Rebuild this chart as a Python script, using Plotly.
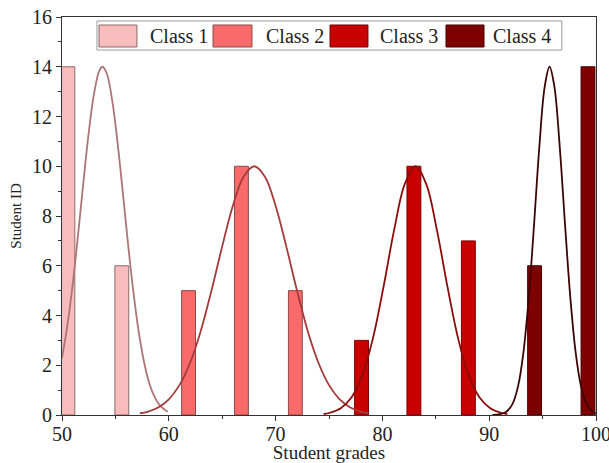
import plotly.graph_objects as go

# ---- data ----
class_names = ["Class 1", "Class 2", "Class 3", "Class 4"]

class1_x = [50.55, 55.6]
class1_y = [14, 6]
class2_x = [61.85, 66.8, 71.85]
class2_y = [5, 10, 5]
class3_x = [78.05, 82.95, 88.05]
class3_y = [3, 10, 7]
class4_x = [94.25, 99.25]
class4_y = [6, 14]

# fitted distribution curves
curve1_x = [50, 50.5, 51, 51.5, 52, 52.5, 53, 53.5, 53.8, 54.2, 54.7, 55.2, 55.7, 56.2, 56.7, 57.2, 57.7, 58.2, 58.7, 59.2, 59.9]
curve1_y = [2.30, 3.59, 5.25, 7.23, 9.34, 11.34, 12.92, 13.84, 14.0, 13.72, 12.65, 10.96, 8.92, 6.81, 4.89, 3.30, 2.09, 1.24, 0.70, 0.37, 0.13]

curve2_x = [57.3, 58, 59, 60, 61, 62, 63, 64, 65, 66, 67, 68, 69, 70, 71, 72, 73, 74, 75, 76, 77, 78, 78.7]
curve2_y = [0.07, 0.13, 0.30, 0.63, 1.20, 2.11, 3.39, 5.01, 6.78, 8.41, 9.58, 10.0, 9.58, 8.41, 6.78, 5.01, 3.39, 2.11, 1.20, 0.63, 0.30, 0.13, 0.07]

curve3_x = [74.5, 75.1, 76.1, 77.1, 78.1, 79.1, 80.1, 81.1, 82.1, 83.1, 84.1, 85.1, 86.1, 87.1, 88.1, 89.1, 90.1, 91.1, 91.7]
curve3_y = [0.04, 0.09, 0.27, 0.70, 1.57, 3.06, 5.14, 7.44, 9.29, 10.0, 9.29, 7.44, 5.14, 3.06, 1.57, 0.70, 0.27, 0.09, 0.04]

curve4_x = [90.3, 91, 91.6, 92.2, 92.7, 93.2, 93.7, 94.2, 94.7, 95.2, 95.65, 96.1, 96.6, 97.1, 97.6, 98.1, 98.6, 99.1, 99.7, 100]
curve4_y = [0.0, 0.03, 0.13, 0.46, 1.15, 2.50, 4.70, 7.66, 10.81, 13.21, 14.0, 13.21, 10.81, 7.66, 4.70, 2.50, 1.15, 0.46, 0.13, 0.06]

x_ticks = [50, 60, 70, 80, 90, 100]
y_ticks = [0, 2, 4, 6, 8, 10, 12, 14, 16]

# ---- styles ----
bar_colors = ["#f9bcbc", "#fb6a6a", "#c90000", "#7e0000"]
bar_edges = ["#8c6a6a", "#8a4a4a", "#7a0000", "#4a0000"]
curve_colors = ["#ad7676", "#a53a3a", "#8c0c0c", "#3e0505"]
FONT = "Liberation Serif"

fig = go.Figure()

bars = [(class1_x, class1_y), (class2_x, class2_y), (class3_x, class3_y), (class4_x, class4_y)]
for i, (bx, by) in enumerate(bars):
    fig.add_trace(go.Bar(
        x=bx, y=by, width=1.3, name=class_names[i],
        marker=dict(color=bar_colors[i], line=dict(color=bar_edges[i], width=1)),
        showlegend=False,
    ))

curves = [(curve1_x, curve1_y), (curve2_x, curve2_y), (curve3_x, curve3_y), (curve4_x, curve4_y)]
for i, (cx, cy) in enumerate(curves):
    fig.add_trace(go.Scatter(
        x=cx, y=cy, mode="lines", line=dict(color=curve_colors[i], width=1.8, shape="spline", smoothing=1.0),
        showlegend=False, hoverinfo="skip",
    ))

# ---- custom legend (box, swatches, labels) in paper coordinates ----
shapes = [dict(type="rect", xref="paper", yref="paper", x0=0.0655, x1=0.936, y0=0.917, y1=0.990,
               line=dict(color="#9a9a9a", width=1), fillcolor="white", layer="above")]
sw_x = [(0.0693, 0.1404), (0.2828, 0.3558), (0.5019, 0.5730), (0.7191, 0.7903)]
txt_x = [0.161, 0.378, 0.592, 0.803]
annotations = []
for i in range(4):
    shapes.append(dict(type="rect", xref="paper", yref="paper", x0=sw_x[i][0], x1=sw_x[i][1],
                       y0=0.9246, y1=0.9799, fillcolor=bar_colors[i],
                       line=dict(color=bar_edges[i], width=1), layer="above"))
    annotations.append(dict(xref="paper", yref="paper", x=txt_x[i], y=0.953, text=class_names[i],
                            showarrow=False, xanchor="left", yanchor="middle",
                            font=dict(family=FONT, size=20, color="#222")))

fig.update_layout(
    width=609, height=463,
    margin=dict(l=62, r=13, t=17, b=48, autoexpand=False),
    paper_bgcolor="white", plot_bgcolor="white",
    barmode="overlay",
    shapes=shapes, annotations=annotations,
    font=dict(family=FONT, color="#222"),
)
fig.update_xaxes(
    range=[50, 100], tickvals=x_ticks, ticktext=[str(v) for v in x_ticks],
    automargin=False, ticklabeloverflow="allow", ticklabelstandoff=-4,
    showline=True, linecolor="#333", linewidth=1, mirror=True,
    ticks="outside", ticklen=5, tickcolor="#333",
    minor=dict(dtick=5, tick0=50, ticks="outside", ticklen=3, tickcolor="#333"),
    showgrid=False, zeroline=False,
    tickfont=dict(family=FONT, size=20, color="#222"),
    title=dict(text="Student grades", font=dict(family=FONT, size=19, color="#222"), standoff=10),
)
fig.update_yaxes(
    range=[0, 16], tickvals=y_ticks, ticktext=[str(v) for v in y_ticks],
    automargin=False, ticklabeloverflow="allow",
    showline=True, linecolor="#333", linewidth=1, mirror=True,
    ticks="outside", ticklen=5, tickcolor="#333",
    minor=dict(dtick=1, tick0=0, ticks="outside", ticklen=3, tickcolor="#333"),
    showgrid=False, zeroline=False,
    tickfont=dict(family=FONT, size=20, color="#222"),
    title=dict(text="Student ID", font=dict(family=FONT, size=15, color="#222"), standoff=6),
)

fig.write_html("out.html")
